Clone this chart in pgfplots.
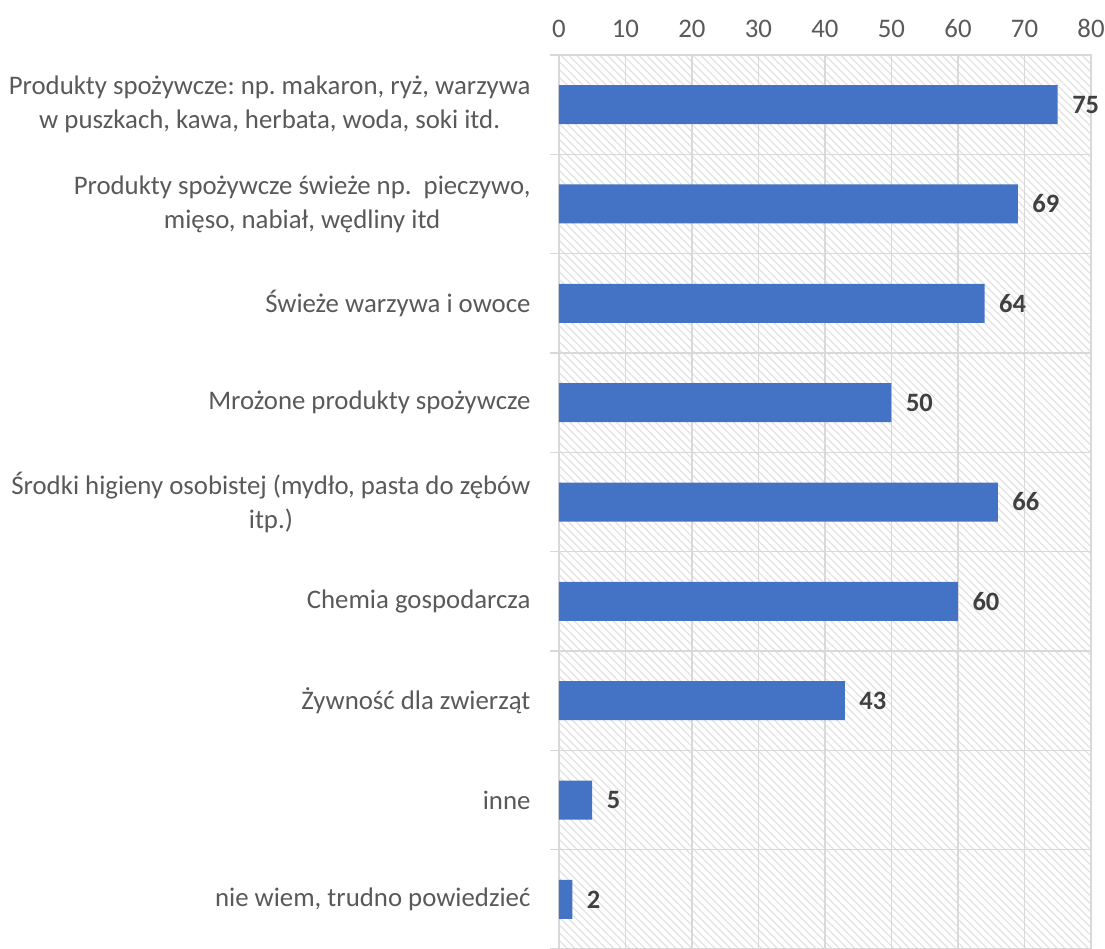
\documentclass[border=0pt]{standalone}
\usepackage{fontspec}
\setmainfont{Carlito}
\usepackage{pgfplots}
\pgfplotsset{compat=1.18}
\usetikzlibrary{patterns.meta}
\definecolor{barblue}{HTML}{4472C4}
\definecolor{gridgray}{HTML}{D9D9D9}
\definecolor{txtgray}{HTML}{595959}
\definecolor{valgray}{HTML}{404040}
\definecolor{hatchgray}{HTML}{E4E4E4}
\begin{document}
\frenchspacing
\begin{tikzpicture}
\begin{axis}[
  at={(0,0)}, anchor=south west,
  width=532pt, height=894pt, scale only axis,
  xbar, bar width=39pt,
  xmin=0, xmax=80, xtick={0,10,...,80},
  ymin=-0.5, ymax=8.5, y dir=reverse,
  ytick={0,...,8},
  yticklabels={
    {Produkty spożywcze: np. makaron, ryż, warzywa\\w puszkach, kawa, herbata, woda, soki itd.},
    {Produkty spożywcze świeże np.\ \ pieczywo,\\mięso, nabiał, wędliny itd},
    {Świeże warzywa i owoce},
    {Mrożone produkty spożywcze},
    {Środki higieny osobistej (mydło, pasta do zębów\\itp.)},
    {Chemia gospodarcza},
    {Żywność dla zwierząt},
    {inne},
    {nie wiem, trudno powiedzieć}},
  minor ytick={-0.5,0.5,...,8.5},
  xmajorgrids, yminorgrids,
  grid style={gridgray, line width=1.5pt},
  minor grid style={gridgray, line width=1.5pt},
  axis line style={gridgray, line width=1.5pt},
  xticklabel pos=upper,
  ytick pos=left,
  tick align=outside,
  major tick length=0pt, minor tick length=9pt,
  tick style={gridgray, line width=1.5pt},
  axis background/.style={pattern={Lines[angle=-45,distance=5.5pt,line width=1.4pt]}, pattern color=hatchgray},
  /pgf/number format/assume math mode=true,
  ticklabel style={font=\fontsize{26.8}{34}\selectfont, text=txtgray},
  yticklabel style={align=center, xshift=-25pt},
  xticklabel style={yshift=14pt},
  nodes near coords,
  point meta=x,
  nodes near coords style={font=\fontsize{26.5}{32}\selectfont\bfseries, text=valgray, anchor=west, xshift=11pt},
]
\addplot[fill=barblue, draw=none] coordinates {
  (75,0) (69,1) (64,2) (50,3) (66,4) (60,5) (43,6) (5,7) (2,8)
};
\end{axis}
\pgfresetboundingbox
\path[use as bounding box] (-559pt,0pt) rectangle (546pt,949pt);
\end{tikzpicture}
\end{document}
